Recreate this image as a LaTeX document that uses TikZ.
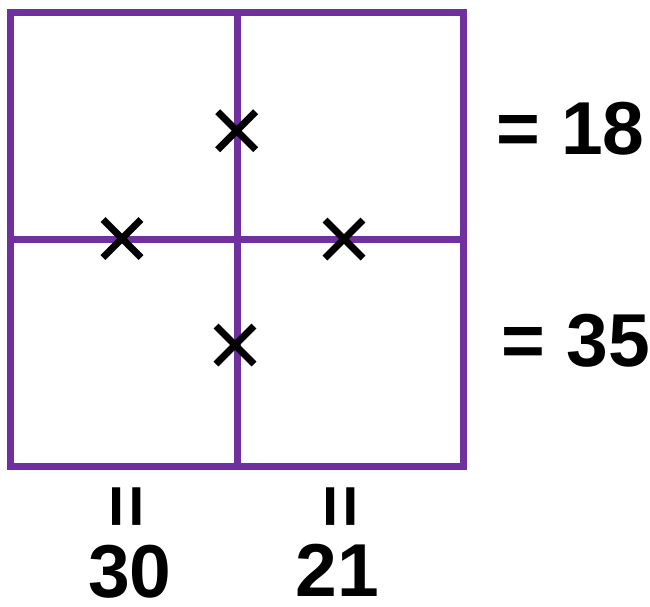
\documentclass[tikz,border=0pt]{standalone}
\usepackage{fontspec}
\setmainfont{Liberation Sans}
\usetikzlibrary{shapes.misc}
\definecolor{gridpurple}{HTML}{7030A0}
\tikzset{
  gridline/.style={draw=gridpurple, line width=7pt},
  xmark/.style={cross out, draw=black, line width=7pt, minimum size=31pt, inner sep=0pt},
  lbl/.style={inner sep=0pt, font=\fontsize{75}{80}\selectfont\bfseries},
  eqrot/.style={inner sep=0pt, rotate=90, font=\fontsize{75}{80}\selectfont\bfseries}
}
\begin{document}
\begin{tikzpicture}[x=1pt, y=-1pt]
\useasboundingbox (0,0) rectangle (650,606);
% grid
\draw[gridline] (10,12) rectangle (463.5,466.5);
\draw[gridline] (237,12) -- (237,466.5);
\draw[gridline] (10,239) -- (463.5,239);
% crosses
\node[xmark] (x1) at (236.7,130.7) {};
\node[xmark] (x2) at (122,238.5) {};
\node[xmark] (x3) at (344,239) {};
\node[xmark] (x4) at (235,345) {};
% labels
\node[lbl] (r1) at (570.5,129) {= 18};
\node[lbl] (r2) at (576,340.5) {= 35};
\node[eqrot] (e1) at (132,506.5) {=};
\node[eqrot] (e2) at (346,506.5) {=};
\node[lbl] (c1) at (130,572) {30};
\node[lbl] (c2) at (337.5,570) {21};
\end{tikzpicture}
\end{document}
